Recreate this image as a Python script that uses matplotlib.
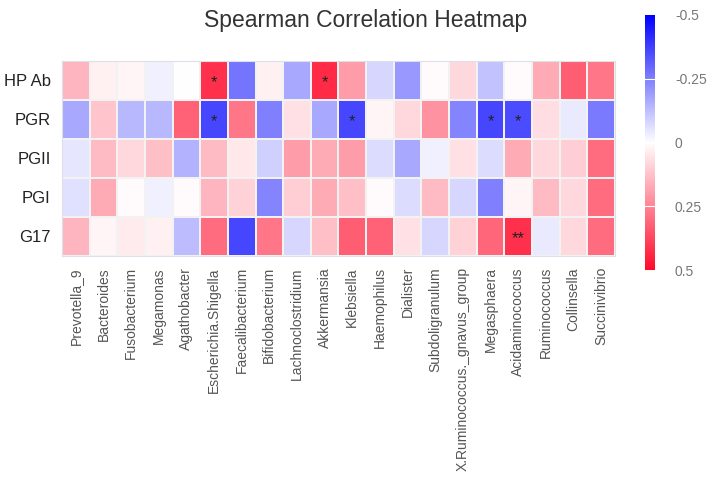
import numpy as np
import matplotlib
matplotlib.use('Agg')
import matplotlib.pyplot as plt
from matplotlib.colors import LinearSegmentedColormap

plt.rcParams['font.family'] = ['Liberation Sans', 'DejaVu Sans']

rows = ['HP Ab', 'PGR', 'PGII', 'PGI', 'G17']
genera = ['Prevotella_9', 'Bacteroides', 'Fusobacterium', 'Megamonas', 'Agathobacter',
          'Escherichia.Shigella', 'Faecalibacterium', 'Bifidobacterium', 'Lachnoclostridium',
          'Akkermansia', 'Klebsiella', 'Haemophilus', 'Dialister', 'Subdoligranulum',
          'X.Ruminococcus._gnavus_group', 'Megasphaera', 'Acidaminococcus', 'Ruminococcus',
          'Collinsella', 'Succinivibrio']

# spearman rho
hp_ab = [0.15, 0.03, 0.02, -0.03, 0.0, 0.42, -0.27, 0.03, -0.17, 0.43,
         0.20, -0.08, -0.20, 0.01, 0.08, -0.12, 0.01, 0.17, 0.33, 0.28]
pgr = [-0.17, 0.12, -0.14, -0.14, 0.32, -0.36, 0.28, -0.25, 0.06, -0.17,
       -0.36, 0.02, 0.08, 0.22, -0.24, -0.36, -0.35, 0.07, -0.04, -0.26]
pgii = [-0.05, 0.14, 0.08, 0.13, -0.15, 0.14, 0.05, -0.09, 0.20, 0.17,
        0.20, -0.07, -0.17, -0.03, 0.06, -0.07, 0.17, 0.08, 0.10, 0.30]
pgi = [-0.06, 0.17, 0.01, -0.03, 0.01, 0.15, 0.09, -0.24, 0.10, 0.17,
       0.13, 0.01, -0.07, 0.14, -0.08, -0.25, 0.02, 0.14, 0.08, 0.30]
g17 = [0.15, 0.02, 0.04, 0.03, -0.13, 0.30, -0.36, 0.28, -0.08, 0.13,
       0.33, 0.32, 0.06, -0.08, 0.09, 0.31, 0.42, -0.04, 0.08, 0.30]

# significance marks: (row, column, text)
stars = [(0, 5, '*'), (0, 9, '*'), (1, 5, '*'), (1, 10, '*'),
         (1, 15, '*'), (1, 16, '*'), (4, 16, '**')]

data = np.array([hp_ab, pgr, pgii, pgi, g17])
cmap = LinearSegmentedColormap.from_list('bwr2', ['#0000ff', '#ffffff', '#ff0a2a'])

fig = plt.figure(figsize=(7.14, 4.79), dpi=100)
ax = fig.add_axes([0.0868, 0.4656, 0.7745, 0.4071])
mesh = ax.pcolormesh(data, cmap=cmap, vmin=-0.5, vmax=0.5,
                     edgecolors='#f2f2f2', linewidth=0.15)
ax.set_xlim(0, len(genera))
ax.set_ylim(len(rows), 0)
ax.set_xticks(np.arange(len(genera)) + 0.5)
ax.set_xticklabels(genera, rotation=90, fontsize=10, color='#555555')
ax.set_yticks(np.arange(len(rows)) + 0.5)
ax.set_yticklabels(rows, fontsize=12, color='#222222')
ax.tick_params(length=0, pad=8)
for s in ax.spines.values():
    s.set_color('#dde0e8')
    s.set_linewidth(0.8)

for r, c, t in stars:
    ax.text(c + 0.5, r + 0.55, t, ha='center', va='center', fontsize=12, color='#222222')

fig.text(0.512, 0.957, 'Spearman Correlation Heatmap', ha='center', va='center',
         fontsize=16.5, color='#333333')

cax = fig.add_axes([0.903, 0.436, 0.015, 0.533])
cb = fig.colorbar(mesh, cax=cax)
cb.outline.set_visible(False)
cb.set_ticks([-0.5, -0.25, 0, 0.25, 0.5])
cb.set_ticklabels(['-0.5', '-0.25', '0', '0.25', '0.5'])
cax.invert_yaxis()
cax.tick_params(length=0, pad=14, labelsize=10, labelcolor='#777777')
for v in [-0.25, 0, 0.25]:
    cax.axhline(v, color='white', linewidth=0.8)

fig.savefig('out.png', dpi=100, facecolor='white')
